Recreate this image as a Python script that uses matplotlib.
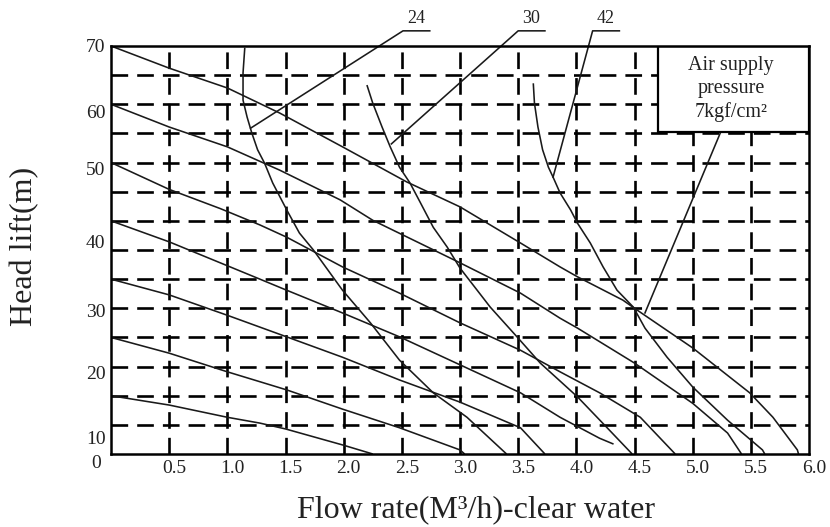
import matplotlib
matplotlib.use("Agg")
import matplotlib.pyplot as plt
from matplotlib.patches import Rectangle
from matplotlib.transforms import ScaledTranslation

plt.rcParams['font.family'] = ['Liberation Serif', 'DejaVu Serif']
plt.rcParams['lines.scale_dashes'] = False

# ---- data (flow m3/h, head m) ----
# pressure head lines (shut-off heads 70..10)
p70_q = [0, 0.5, 1.0, 1.45, 1.99, 2.54, 3.0, 3.52, 3.86, 4.01, 4.40, 4.50, 5.0, 5.49, 5.69, 5.90, 5.91]
p70_h = [70, 66.2, 62.8, 58.5, 52.7, 46.7, 42.4, 36.2, 32.1, 30.4, 26.4, 25.0, 18.2, 10.5, 6.3, 0.7, 0]
p60_q = [0, 0.5, 1.0, 1.45, 1.97, 2.25, 3.0, 3.52, 3.86, 4.01, 4.50, 5.0, 5.30, 5.42]
p60_h = [60, 56.1, 52.7, 48.7, 43.6, 40.1, 32.8, 27.6, 23.3, 21.6, 15.6, 8.7, 3.6, 0]
p50_q = [0, 0.5, 0.94, 1.28, 1.51, 1.99, 2.48, 3.0, 3.52, 3.86, 4.20, 4.55, 4.85]
p50_h = [50, 45.4, 42.1, 39.3, 37.2, 32.1, 27.6, 22.5, 17.8, 14.1, 10.5, 6.3, 0]
p40_q = [0, 0.5, 1.0, 1.28, 1.51, 1.99, 2.48, 3.0, 3.52, 3.86, 4.20, 4.32]
p40_h = [40, 36.4, 32.3, 30.0, 28.1, 24.2, 20.1, 15.3, 10.5, 6.3, 2.7, 1.7]
p30_q = [0, 0.5, 1.0, 1.51, 1.99, 2.48, 3.0, 3.52, 3.73]
p30_h = [30, 27.3, 23.8, 20.1, 16.6, 12.7, 8.9, 4.5, 0]
p20_q = [0, 0.5, 1.0, 1.28, 1.51, 1.99, 2.48, 3.0, 3.04]
p20_h = [20, 17.3, 14.1, 12.4, 11.0, 7.7, 4.5, 0.7, 0]
p10_q = [0, 0.5, 1.0, 1.28, 1.5, 2.0, 2.25]
p10_h = [10, 8.4, 6.3, 5.3, 4.3, 1.5, 0]

# air consumption curves
c24_q = [1.15, 1.135, 1.135, 1.17, 1.21, 1.26, 1.32, 1.39, 1.51, 1.62, 1.74, 1.99, 2.23, 2.48, 2.77, 3.06, 3.40]
c24_h = [69.7, 65.4, 60.7, 57.8, 55.1, 52.2, 49.9, 46.5, 41.9, 37.9, 35.0, 28.1, 22.5, 16.1, 10.5, 6.3, 0]
c30_q = [2.20, 2.25, 2.33, 2.40, 2.48, 2.57, 2.66, 2.77, 2.89, 3.0, 3.26, 3.49, 3.69, 4.01, 4.26, 4.48]
c30_h = [63.3, 60.2, 56.1, 52.7, 49.2, 46.5, 43.1, 38.9, 35.5, 31.9, 25.2, 20.1, 15.6, 9.8, 4.6, 0]
c42_q = [3.63, 3.64, 3.67, 3.71, 3.76, 3.80, 3.86, 3.95, 4.01, 4.12, 4.23, 4.35, 4.49, 4.59, 4.78, 5.0, 5.30, 5.60, 5.62]
c42_h = [63.6, 60.2, 56.1, 52.2, 49.2, 47.5, 44.8, 41.9, 39.6, 36.2, 32.1, 28.1, 25.2, 21.6, 16.6, 11.5, 5.8, 0.7, 0]

curve_labels = ["24", "30", "42"]
label_tip_q = [1.20, 2.41, 3.80]
label_tip_h = [55.9, 53.2, 47.5]
label_base_q = [2.51, 3.50, 4.14]

xtick_vals = [0.5, 1.0, 1.5, 2.0, 2.5, 3.0, 3.5, 4.0, 4.5, 5.0, 5.5, 6.0]
xtick_labels = ["0.5", "1.0", "1.5", "2.0", "2.5", "3.0", "3.5", "4.0", "4.5", "5.0", "5.5", "6.0"]
ytick_pos = [70, 58.8, 48.9, 36.4, 24.7, 13.9, 2.9]
ytick_labels = ["70", "60", "50", "40", "30", "20", "10"]

box_text = "Air supply\npressure\n7kgf/cm²"

# ---- figure ----
fig = plt.figure(figsize=(8.3, 5.27), dpi=100)
ax = fig.add_axes([111/830, 73/527, 698/830, 408/527])
ax.set_xlim(0, 6)
ax.set_ylim(0, 70)

grid_kw = dict(color='black', lw=1.9, linestyle=(0, (12.0, 6.5)), zorder=1)
for v in [0.5 * i for i in range(1, 12)]:
    ax.axvline(v, **grid_kw)
for v in [5 * i for i in range(1, 14)]:
    ax.axhline(v, **grid_kw)

for s in ax.spines.values():
    s.set_linewidth(1.8)
    s.set_zorder(5)

line_kw = dict(color='#1a1a1a', lw=1.15, zorder=3, solid_capstyle='butt')
for q, h in [(p70_q, p70_h), (p60_q, p60_h), (p50_q, p50_h), (p40_q, p40_h),
             (p30_q, p30_h), (p20_q, p20_h), (p10_q, p10_h),
             (c24_q, c24_h), (c30_q, c30_h), (c42_q, c42_h)]:
    ax.plot(q, h, **line_kw)

# labels with leaders
for lab, tq, th, bq in zip(curve_labels, label_tip_q, label_tip_h, label_base_q):
    ax.plot([tq, bq, bq + 0.23], [th, 72.6, 72.6], color='#1a1a1a', lw=1.15,
            clip_on=False, zorder=3)
    ax.text(bq + 0.115, 73.2, lab, ha='center', va='bottom', fontsize=13,
            clip_on=False, color='#222222')

# pressure box
ax.add_patch(Rectangle((4.70, 55.2), 1.30, 14.8, facecolor='white',
                       edgecolor='black', lw=1.6, zorder=4))
ax.text(5.33, 62.6, box_text, ha='center', va='center', fontsize=14.5,
        linespacing=1.3, zorder=6, color='#222222')
ax.plot([5.24, 4.59], [55.2, 24.2], color='#1a1a1a', lw=1.15, zorder=3)

# ticks
ax.set_xticks(xtick_vals, xtick_labels)
ax.set_yticks(ytick_pos, ytick_labels)
ax.tick_params(axis='both', length=0, labelsize=14, colors='#222222')
ax.tick_params(axis='x', pad=4)
ax.tick_params(axis='y', pad=4)
off = ScaledTranslation(5 / 100, 0, fig.dpi_scale_trans)
for t in ax.get_xticklabels():
    t.set_transform(t.get_transform() + off)
ax.text(-0.015, -1.6, "0", transform=ax.get_yaxis_transform(), ha='right',
        va='center', fontsize=14, color='#222222', clip_on=False)

ax.set_xlabel("Flow rate(M³/h)-clear water", fontsize=23, color='#222222')
ax.xaxis.set_label_coords((476 - 111) / 698, (454 - 510) / 408)
ax.xaxis.label.set_va('center')
ax.set_ylabel("Head lift(m)", fontsize=23, color='#222222')
ax.yaxis.set_label_coords((25 - 111) / 698, (454 - 246) / 408)
ax.yaxis.label.set_va('center')

fig.savefig("out.png", dpi=100)
